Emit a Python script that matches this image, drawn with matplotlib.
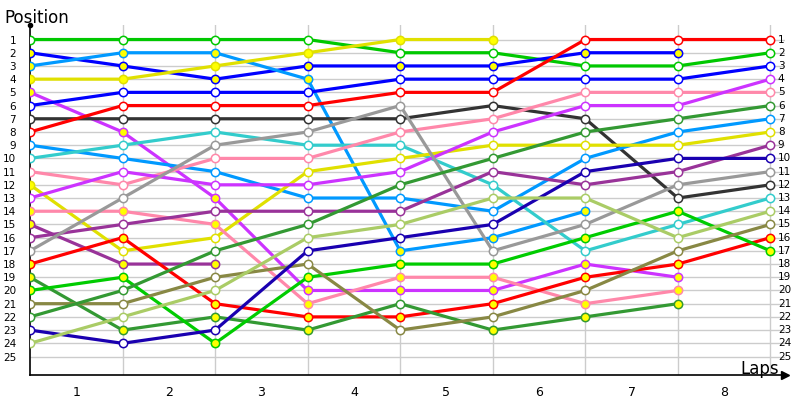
import matplotlib
matplotlib.use("Agg")
import matplotlib.pyplot as plt

laps = list(range(0, 9))
lap_labels = ["1", "2", "3", "4", "5", "6", "7", "8"]
N = None
green1   = [1, 1, 1, 1, 2, 2, 3, 3, 2]
blue1    = [2, 3, 4, 3, 3, 3, 2, 2, N]
ltblueA  = [3, 2, 2, 4, 17, 16, 14, N, N]
yellow1  = [4, 4, 3, 2, 1, 1, N, N, N]
purple1  = [5, 8, 13, 20, 20, 20, 18, 19, N]
blue2    = [6, 5, 5, 5, 4, 4, 4, 4, 3]
dark     = [7, 7, 7, 7, 7, 6, 7, 13, 12]
red1     = [8, 6, 6, 6, 5, 5, 1, 1, 1]
ltblueB  = [9, 10, 11, 13, 13, 14, 10, 8, 7]
cyan     = [10, 9, 8, 9, 9, 12, 17, 15, 13]
pink1    = [11, 12, 10, 10, 8, 7, 5, 5, 5]
yellow2  = [12, 17, 16, 11, 10, 9, 9, 9, 8]
magenta2 = [13, 11, 12, 12, 11, 8, 6, 6, 4]
pink2    = [14, 14, 15, 21, 19, 19, 21, 20, N]
plum2    = [15, 18, 18, N, N, N, N, N, N]
plum1    = [16, 15, 14, 14, 14, 11, 12, 11, 9]
gray     = [17, 13, 9, 8, 6, 17, 15, 12, 11]
red2     = [18, 16, 21, 22, 22, 21, 19, 18, 16]
dgreen1  = [19, 23, 22, 23, 21, 23, 22, 21, N]
lime2    = [20, 19, 24, 19, 18, 18, 16, 14, 17]
olive    = [21, 21, 19, 18, 23, 22, 20, 17, 15]
dgreen2  = [22, 20, 17, 15, 12, 10, 8, 7, 6]
navy     = [23, 24, 23, 17, 16, 15, 11, 10, 10]
ltgreen  = [24, 22, 20, 16, 15, 13, 13, 16, 14]

series = [
    ("#00c800", green1, "nnnnnnnnn"),
    ("#0000ff", blue1, "yyyyyyyyy"),
    ("#0099ff", ltblueA, "yyyyyyyyy"),
    ("#e0e000", yellow1, "yyyyyyyyy"),
    ("#cc33ff", purple1, "yyyyyyyyy"),
    ("#0000ff", blue2, "nnnnnnnnn"),
    ("#333333", dark, "nnnnnnnnn"),
    ("#ff0000", red1, "nnnnnnnnn"),
    ("#0099ff", ltblueB, "nnnnnnnnn"),
    ("#33cccc", cyan, "nnnnnnnnn"),
    ("#ff88aa", pink1, "nnnnnnnnn"),
    ("#e0e000", yellow2, "ynnnnnnnn"),
    ("#cc33ff", magenta2, "nnnnnnnnn"),
    ("#ff88aa", pink2, "yyyyyyyyy"),
    ("#993399", plum2, "yyyyyyyyy"),
    ("#993399", plum1, "nnnnnnnnn"),
    ("#999999", gray, "nnnnnnnnn"),
    ("#ff0000", red2, "yyyyyyyyy"),
    ("#339933", dgreen1, "yyyynyyyy"),
    ("#00cc00", lime2, "yyyyyyyyy"),
    ("#888844", olive, "nnnnnnnnn"),
    ("#339933", dgreen2, "nnnnnnnnn"),
    ("#1a00b0", navy, "nnnnnnnnn"),
    ("#aacc66", ltgreen, "nnnnnnnnn"),
]

fig = plt.figure(figsize=(8, 4), dpi=100)
ax = fig.add_axes([0.0375, 0.0625, 0.944, 0.875])
ax.set_xlim(0, 8.16)
ax.set_ylim(26.4, -0.1)
for p in range(1, 26):
    ax.axhline(p, color="#cccccc", lw=1, zorder=0)
for l in range(1, 9):
    ax.axvline(l, color="#cccccc", lw=1, zorder=0)

for col, vals, fills in series:
    xs = [x for x, v in zip(laps, vals) if v is not None]
    ys = [v for v in vals if v is not None]
    ax.plot(xs, ys, color=col, lw=2.3, zorder=2, solid_capstyle="round")
    for x, y in zip(xs, ys):
        fc = "#ffff00" if fills[x] == "y" else "white"
        ax.plot([x], [y], marker="o", ms=6, mfc=fc, mec=col, mew=1.1, zorder=3)

for s in ["top", "right"]:
    ax.spines[s].set_visible(False)
ax.spines["left"].set_linewidth(1.2)
ax.spines["bottom"].set_linewidth(1.2)
ax.set_yticks(range(1, 26))
ax.set_yticklabels([str(p) for p in range(1, 26)], fontsize=7.5)
ax.tick_params(axis="y", length=0, pad=10)
ax.set_xticks([i + 0.5 for i in range(8)])
ax.set_xticklabels(lap_labels, fontsize=9)
ax.tick_params(axis="x", length=0, pad=8)
for p in range(1, 26):
    ax.text(8.08, p, str(p), fontsize=7.5, va="center", ha="left")
ax.plot([8.16], [26.4], marker=">", color="black", ms=6, clip_on=False)
ax.plot([0], [-0.1], marker="o", color="black", ms=3, clip_on=False)
fig.text(0.006, 0.955, "Position", fontsize=12, ha="left", va="center")
fig.text(0.925, 0.078, "Laps", fontsize=12, ha="left", va="center")
fig.savefig("out.png", dpi=100)
